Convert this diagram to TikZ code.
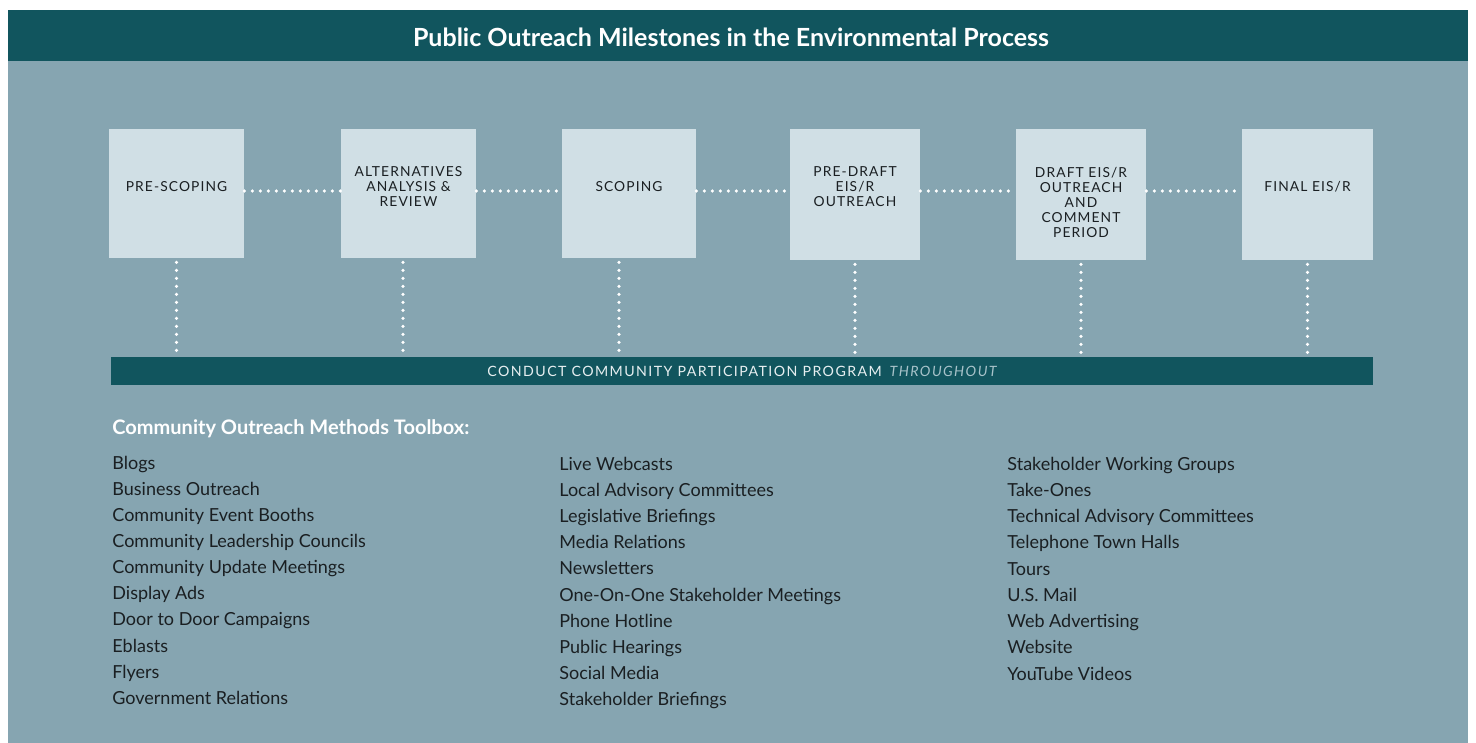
\documentclass[tikz,border=0pt]{standalone}
\usepackage{fontspec}
\setmainfont{Lato}
\definecolor{tealbar}{HTML}{11555E}
\definecolor{panel}{HTML}{86A5B1}
\definecolor{boxfill}{HTML}{D0DFE5}
\definecolor{inktext}{HTML}{1A1F22}
\definecolor{thru}{HTML}{A8C3CA}
\definecolor{bartext}{HTML}{E6EEF0}
\begin{document}
\begin{tikzpicture}[x=0.5pt,y=-0.5pt,
  stagebox/.style={fill=boxfill, draw=none, minimum width=#1, minimum height=64.5pt, inner sep=0pt},
  stagebox/.default=67.5pt,
  stagetext/.style={text=inktext, align=center, inner sep=0pt,
    font=\fontsize{6.9pt}{7.5pt}\selectfont\addfontfeature{LetterSpace=8}},
  dotline/.style={draw=white, line width=1.8pt, line cap=round, dash pattern=on 0pt off 4pt},
  listitem/.style={anchor=base west, inner sep=0pt, text=inktext, font=\fontsize{9pt}{10pt}\selectfont}
]
\useasboundingbox (0,0) rectangle (1476,743);
\fill[white] (0,0) rectangle (1476,743);
% panel and title bar
\fill[panel] (8,10) rectangle (1468,743);
\node[fill=tealbar, minimum width=730pt, minimum height=25.5pt, inner sep=0pt, anchor=north west] (titlebar) at (8,10) {};
\node[text=white, font=\fontsize{12.5pt}{14pt}\selectfont\bfseries] (title) at (731,37) {Public Outreach Milestones in the Environmental Process};

% stage boxes
\node[stagebox] (b1) at (176.5,193.5) {};
\node[stagebox] (b2) at (408.5,193.5) {};
\node[stagebox=67pt] (b3) at (629,193.5) {};
\node[stagebox=65pt, minimum height=65.5pt] (b4) at (855,194.5) {};
\node[stagebox=65pt, minimum height=65.5pt] (b5) at (1081,194.5) {};
\node[stagebox=65.5pt, minimum height=65.5pt] (b6) at (1307.5,194.5) {};

\node[stagetext] (t1) at (176.5,187) {PRE-SCOPING};
\node[stagetext] (t2) at (408.5,187) {ALTERNATIVES\\ANALYSIS \&\\REVIEW};
\node[stagetext] (t3) at (629,187) {SCOPING};
\node[stagetext] (t4) at (855,187) {PRE-DRAFT\\EIS/R\\OUTREACH};
\node[stagetext] (t5) at (1081,202) {DRAFT EIS/R\\OUTREACH\\AND\\COMMENT\\PERIOD};
\node[stagetext] (t6) at (1307.5,187) {FINAL EIS/R};

% horizontal dotted connectors
\draw[dotline] ([yshift=1.25pt]b1.east) -- ([yshift=1.25pt]b2.west);
\draw[dotline] ([yshift=1.25pt]b2.east) -- ([yshift=1.25pt]b3.west);
\draw[dotline] ([yshift=1.25pt]b3.east) -- ([yshift=1.75pt]b4.west);
\draw[dotline] ([yshift=1.75pt]b4.east) -- ([yshift=1.75pt]b5.west);
\draw[dotline] ([yshift=1.75pt]b5.east) -- ([yshift=1.75pt]b6.west);

% community participation bar
\node[fill=tealbar, minimum width=631pt, minimum height=14pt, inner sep=0pt,
  text=bartext, font=\fontsize{7.1pt}{8pt}\selectfont\addfontfeature{LetterSpace=10}] (bar) at (742,371)
  {CONDUCT COMMUNITY PARTICIPATION PROGRAM\hspace{4pt}\textcolor{thru}{\itshape THROUGHOUT}};

% vertical dotted connectors
\draw[dotline] ([yshift=-2pt]b1.south) -- (b1.south |- bar.north);
\draw[dotline] ([xshift=-2.75pt,yshift=-2pt]b2.south) -- ([xshift=-2.75pt]b2.south |- bar.north);
\draw[dotline] ([xshift=-5pt,yshift=-2pt]b3.south) -- ([xshift=-5pt]b3.south |- bar.north);
\draw[dotline] ([yshift=-2pt]b4.south) -- (b4.south |- bar.north);
\draw[dotline] ([yshift=-2pt]b5.south) -- (b5.south |- bar.north);
\draw[dotline] ([yshift=-2pt]b6.south) -- (b6.south |- bar.north);

% toolbox
\node[anchor=base west, inner sep=0pt, text=white, font=\fontsize{10pt}{12pt}\selectfont\bfseries] (toolhead) at (112,434) {Community Outreach Methods Toolbox:};

\foreach \t [count=\i from 0] in {Blogs, Business Outreach, Community Event Booths, Community Leadership Councils, Community Update Meetings, Display Ads, Door to Door Campaigns, Eblasts, Flyers, Government Relations}
  \node[listitem] (ca\i) at (112,469+26.15*\i) {\t};
\foreach \t [count=\i from 0] in {Live Webcasts, Local Advisory Committees, Legislative Briefings, Media Relations, Newsletters, One-On-One Stakeholder Meetings, Phone Hotline, Public Hearings, Social Media, Stakeholder Briefings}
  \node[listitem] (cb\i) at (559,470+26.2*\i) {\t};
\foreach \t [count=\i from 0] in {Stakeholder Working Groups, Take-Ones, Technical Advisory Committees, Telephone Town Halls, Tours, U.S. Mail, Web Advertising, Website, YouTube Videos}
  \node[listitem] (cc\i) at (1007,470+26.25*\i) {\t};
\end{tikzpicture}
\end{document}
